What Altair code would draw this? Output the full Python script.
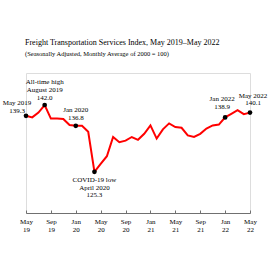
import altair as alt
import pandas as pd

months = [
    "May 19", "Jun 19", "Jul 19", "Aug 19", "Sep 19", "Oct 19", "Nov 19", "Dec 19",
    "Jan 20", "Feb 20", "Mar 20", "Apr 20", "May 20", "Jun 20", "Jul 20", "Aug 20",
    "Sep 20", "Oct 20", "Nov 20", "Dec 20",
    "Jan 21", "Feb 21", "Mar 21", "Apr 21", "May 21", "Jun 21", "Jul 21", "Aug 21",
    "Sep 21", "Oct 21", "Nov 21", "Dec 21",
    "Jan 22", "Feb 22", "Mar 22", "Apr 22", "May 22",
]
values = [
    139.3, 138.9, 140.1, 142.0, 138.6, 138.6, 138.5, 137.0,
    136.8, 136.8, 135.3, 125.3, 127.3, 129.2, 134.0, 132.7,
    133.1, 134.0, 133.3, 134.8,
    136.9, 133.6, 135.9, 137.4, 136.5, 136.3, 134.4, 134.0,
    134.8, 136.1, 136.9, 137.1,
    138.9, 139.8, 140.7, 139.7, 140.1,
]
tick_months = ["May 19", "Sep 19", "Jan 20", "May 20", "Sep 20", "Jan 21",
               "May 21", "Sep 21", "Jan 22", "May 22"]

ann_months = ["May 19", "Aug 19", "Jan 20", "Apr 20", "Jan 22", "May 22"]
ann_values = [139.3, 142.0, 136.8, 125.3, 138.9, 140.1]
ann_texts = [
    "May 2019\n139.3",
    "All-time high\nAugust 2019\n142.0",
    "Jan 2020\n136.8",
    "COVID-19 low\nApril 2020\n125.3",
    "Jan 2022\n138.9",
    "May 2022\n140.1",
]

TITLE = "Freight Transportation Services Index, May 2019\u2013May 2022"
SUBTITLE = "(Seasonally Adjusted, Monthly Average of 2000 = 100)"

SERIF = "Liberation Serif"
W, H = 224, 140

df = pd.DataFrame({"month": months, "value": values})
ann = pd.DataFrame({"month": ann_months, "value": ann_values, "text": ann_texts})

xscale = alt.Scale(type="point", domain=months, padding=0)
yscale = alt.Scale(domain=[115, 150], zero=False, nice=False)

line = alt.Chart(df).mark_line(color="#FF0000", strokeWidth=2).encode(
    x=alt.X("month:O", scale=xscale,
            axis=alt.Axis(values=tick_months, title=None, orient="bottom",
                          domain=False, ticks=False, labelAngle=0,
                          labelExpr="split(datum.label, ' ')",
                          labelFont=SERIF, labelFontSize=7, labelColor="black",
                          labelPadding=4, labelLineHeight=8)),
    y=alt.Y("value:Q", scale=yscale, axis=None),
)

# a top-oriented axis moved down onto the bottom edge: its ticks point upward
points = alt.Chart(ann).mark_circle(color="black", size=22, opacity=1).encode(
    x=alt.X("month:O", scale=xscale,
            axis=alt.Axis(values=tick_months, title=None, orient="top",
                          offset=-H, labels=False, domain=True, ticks=True,
                          tickSize=3, domainColor="#707070", tickColor="#707070",
                          domainWidth=1, tickWidth=1)),
    y=alt.Y("value:Q", scale=yscale, axis=None),
)

# per-label placement (style, not data): dy to the first line's centre
place = [
    dict(dx=-9, dy=-13),
    dict(dx=0, dy=-23),
    dict(dx=0, dy=-16),
    dict(dx=0, dy=8),
    dict(dx=-3, dy=-18),
    dict(dx=3, dy=-17),
]

texts = []
for i, p in enumerate(place):
    t = alt.Chart(ann.iloc[[i]]).mark_text(
        font=SERIF, fontSize=7, color="black", align="center", baseline="middle",
        lineBreak="\n", lineHeight=7.8, **p
    ).encode(
        x=alt.X("month:O", scale=xscale, axis=None),
        y=alt.Y("value:Q", scale=yscale, axis=None),
        text="text:N",
    )
    texts.append(t)

chart = alt.layer(line, points, *texts).resolve_scale(x="independent").resolve_axis(
    x="independent"
).properties(
    width=W, height=H,
    autosize=alt.AutoSizeParams(type="none"),
    padding={"left": 26, "top": 73, "right": 20, "bottom": 57},
    title=alt.TitleParams(TITLE, subtitle=SUBTITLE, anchor="start", frame="group",
                          offset=16, subtitlePadding=4, dx=-1),
).configure_view(stroke=None).configure(background="white").configure_title(
    font=SERIF, fontSize=8, fontWeight="normal", color="black",
    subtitleFont=SERIF, subtitleFontSize=6.5, subtitleColor="black",
)

chart.save("out.html", embed_options={"renderer": "svg", "actions": False})
